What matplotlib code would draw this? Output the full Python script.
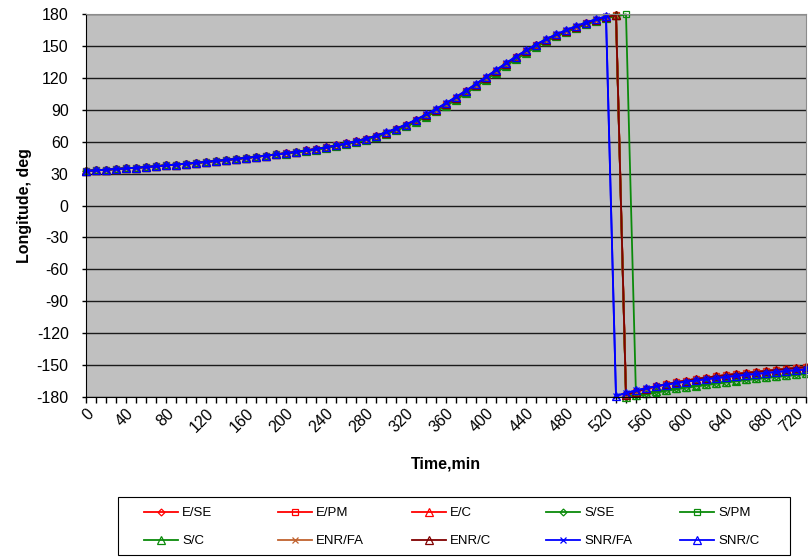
import matplotlib
matplotlib.use('Agg')
import matplotlib.pyplot as plt
import matplotlib.transforms as mtransforms
from matplotlib.patches import Rectangle
from matplotlib.ticker import MultipleLocator, NullFormatter

plt.rcParams['font.family'] = ['Liberation Sans', 'DejaVu Sans']
plt.rcParams['axes.unicode_minus'] = False

# time grid, minutes
times = list(range(0, 730, 10))
time_labels = list(range(0, 730, 40))

# longitude (deg) per solution group, wrapped to [-180, 180]
lon_early = [32.5, 33.1, 33.7, 34.3, 34.9, 35.5, 36.2, 36.9, 37.7, 38.5,
             39.3, 40.1, 41.0, 41.9, 42.8, 43.8, 44.8, 45.8, 46.9, 48.0]

lon_e = lon_early + [
    49.2, 50.4, 51.7, 53.1, 54.7, 56.4, 58.3, 60.4, 62.8, 65.5,
    68.5, 71.8, 75.6, 80.0, 85.0, 90.0, 95.5, 101.2, 107.2, 113.5,
    120.0, 126.5, 133.0, 139.2, 145.0, 150.5, 155.5, 160.0, 164.0, 167.8,
    171.2, 174.2, 176.8, 179.2,
    -178.2, -175.0, -172.3, -170.0, -168.0, -166.2, -164.6, -163.1, -161.8, -160.6,
    -159.5, -158.4, -157.4, -156.4, -155.4, -154.5, -153.6, -152.7, -151.8]

lon_s = lon_early + [
    48.8, 50.0, 51.2, 52.6, 54.1, 55.8, 57.6, 59.6, 61.9, 64.5,
    67.4, 70.6, 74.3, 78.6, 83.5, 88.5, 93.9, 99.6, 105.6, 111.9,
    118.4, 124.9, 131.4, 137.7, 143.6, 149.2, 154.3, 158.9, 163.0, 166.9,
    170.4, 173.5, 176.2, 178.7,
    -179.6, -178.0, -176.3, -174.7, -173.2, -171.8, -170.5, -169.2, -168.0, -166.8,
    -165.7, -164.6, -163.5, -162.5, -161.5, -160.5, -159.5, -158.6, -157.7]

lon_spm = lon_early + [
    48.8, 50.0, 51.2, 52.6, 54.1, 55.8, 57.6, 59.6, 61.9, 64.5,
    67.4, 70.6, 74.3, 78.6, 83.5, 88.5, 93.9, 99.6, 105.6, 111.9,
    118.4, 124.9, 131.4, 137.7, 143.6, 149.2, 154.3, 158.9, 163.0, 166.9,
    170.4, 173.5, 176.2, 177.8, 179.7,
    -179.4, -177.6, -175.9, -174.3, -172.8, -171.4, -170.1, -168.8, -167.6, -166.4,
    -165.3, -164.2, -163.2, -162.2, -161.2, -160.3, -159.4, -158.5]

lon_snr = lon_early + [
    49.2, 50.4, 51.7, 53.1, 54.7, 56.4, 58.3, 60.4, 62.8, 65.5,
    68.8, 72.2, 76.1, 80.6, 85.6, 90.7, 96.2, 102.0, 108.0, 114.3,
    120.8, 127.3, 133.8, 140.0, 145.8, 151.3, 156.3, 160.8, 164.8, 168.6,
    172.0, 175.0, 177.7,
    -179.0, -176.2, -173.8, -171.7, -169.9, -168.3, -166.9, -165.6, -164.4, -163.3,
    -162.2, -161.2, -160.2, -159.2, -158.3, -157.4, -156.5, -155.6, -154.8, -154.0]

series = [
    ('E/SE', lon_e, '#ff0000', 'D', 3.5),
    ('E/PM', lon_e, '#ff0000', 's', 5),
    ('E/C', lon_e, '#ff0000', '^', 5.5),
    ('S/SE', lon_s, '#0a8a0a', 'D', 3.5),
    ('S/PM', lon_spm, '#0a8a0a', 's', 5),
    ('S/C', lon_s, '#0a8a0a', '^', 5.5),
    ('ENR/FA', lon_e, '#c0622e', 'x', 5),
    ('ENR/C', lon_e, '#800000', '^', 5.5),
    ('SNR/FA', lon_snr, '#0000ff', 'x', 5),
    ('SNR/C', lon_snr, '#0000ff', '^', 5.5),
]

fig = plt.figure(figsize=(8.08, 5.57), dpi=100)
ax = fig.add_axes([86/808, 1-397/557, 720/808, 383/557])
ax.set_facecolor('#c0c0c0')

handles = []
for name, lon, color, mk, ms in series:
    h, = ax.plot(times, lon, color=color, lw=1.3, marker=mk, ms=ms,
                 mfc='none', mec=color, mew=0.9, label=name, clip_on=False)
    handles.append(h)

ax.set_xlim(0, 720)
ax.set_ylim(-180, 180)
ax.xaxis.set_major_locator(MultipleLocator(40))
ax.xaxis.set_minor_locator(MultipleLocator(10))
ax.xaxis.set_major_formatter(NullFormatter())
ax.yaxis.set_major_locator(MultipleLocator(30))
ax.tick_params(axis='both', which='both', direction='out', width=1,
               color='black', labelsize=11.5)
ax.tick_params(axis='x', which='both', length=4.5)
ax.tick_params(axis='y', length=3, pad=9.5)

# rotated time labels; the last one is pulled in to stay inside the figure
xtrans = mtransforms.blended_transform_factory(ax.transData, ax.transAxes)
for t in time_labels:
    dx = -11 if t == time_labels[-1] else 0
    off = mtransforms.ScaledTranslation(dx/100, -9/100, fig.dpi_scale_trans)
    ax.text(t, 0, str(t), transform=xtrans + off, fontsize=11.5,
            rotation=45, ha='right', va='top', rotation_mode='anchor')

ax.yaxis.grid(True, color='#1a1a1a', lw=1.0)
ax.set_axisbelow(True)
ax.spines['left'].set_color('black')
ax.spines['bottom'].set_color('black')
ax.spines['top'].set_color('#8c8c8c')
ax.spines['right'].set_color('#8c8c8c')

ax.set_xlabel('Time,min', fontsize=11.5, fontweight='bold', labelpad=35)
ax.set_ylabel('Longitude, deg', fontsize=11.5, fontweight='bold', labelpad=3)

# legend: five evenly spaced columns, two rows, inside one box
fig.patches.append(Rectangle((118/808, 2/557), 672/808, 58/557,
                             transform=fig.transFigure, fill=False,
                             ec='black', lw=0.8))
for c in range(5):
    col = [handles[c], handles[c + 5]]
    fig.legend(col, [series[c][0], series[c + 5][0]],
               loc='upper left',
               bbox_to_anchor=((144 + 134*c)/808, 1 - 507/557),
               borderaxespad=0, borderpad=0, frameon=False,
               fontsize=9.5, handlelength=2.6, handletextpad=0.3,
               labelspacing=1.2)

fig.savefig('out.png', dpi=100)
